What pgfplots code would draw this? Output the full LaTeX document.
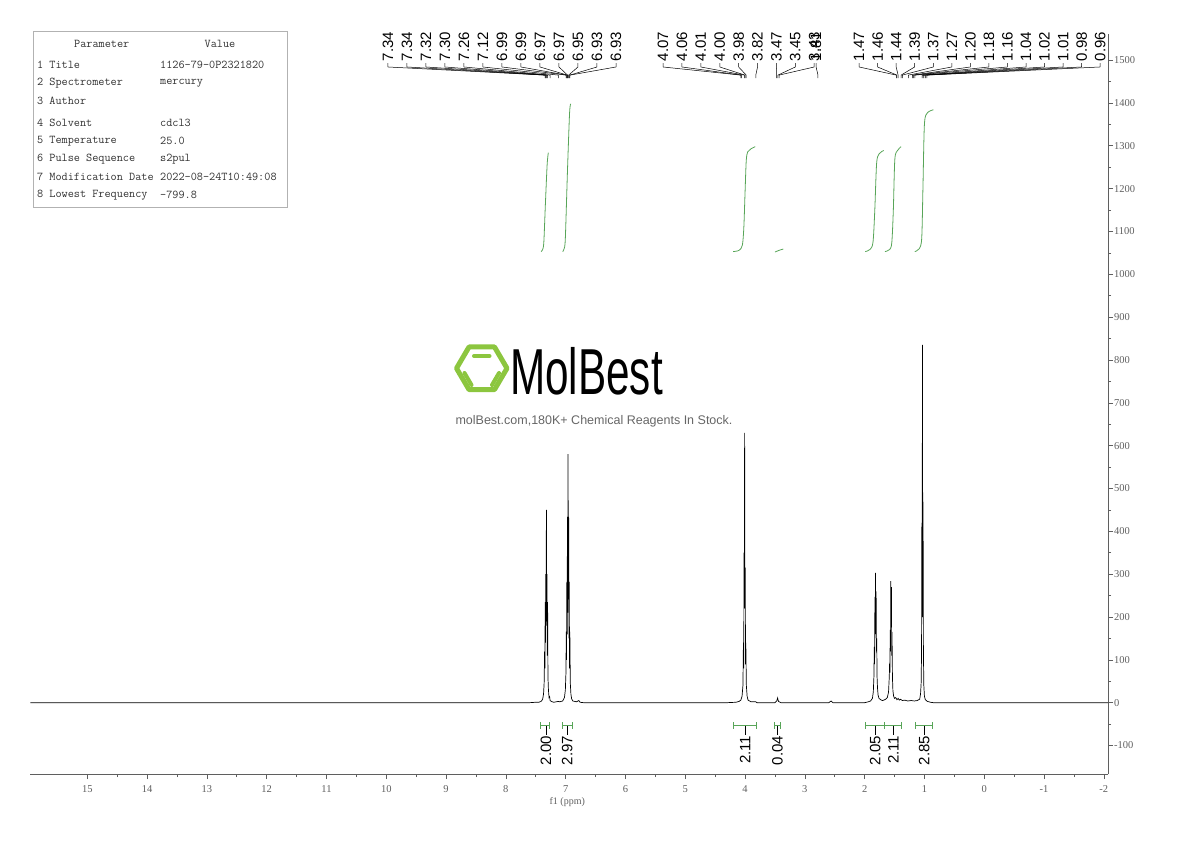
\documentclass[border=0pt]{standalone}
\usepackage{pgfplots}
\pgfplotsset{compat=1.18}
\usepackage{fontspec}
\setmainfont{Liberation Serif}
\newfontfamily\sans{Liberation Sans}
\definecolor{intgreen}{RGB}{88,165,88}
\definecolor{logogreen}{RGB}{140,198,63}
\definecolor{axgray}{RGB}{95,95,95}
\definecolor{tabgray}{RGB}{50,50,50}
\newcommand\pk[3]{%
  \draw[black,line width=0.5pt] (axis cs:#1,1493) -- (axis cs:#1,1484) -- (axis cs:#2,1465) -- (axis cs:#2,1458);
  \node[rotate=90,anchor=west,inner sep=0pt,font=\sans\fontsize{15}{15}\selectfont] at (axis cs:#1,1497) {#3};}
\newcommand\intb[4]{%
  \draw[intgreen,line width=0.8pt] (axis cs:#1,-53.7) -- (axis cs:#2,-53.7);
  \draw[intgreen,line width=0.8pt] (axis cs:#1,-46) -- (axis cs:#1,-61);
  \draw[intgreen,line width=0.8pt] (axis cs:#2,-46) -- (axis cs:#2,-61);
  \draw[black,line width=0.6pt] (axis cs:#3,-53.7) -- (axis cs:#3,-75);
  \node[rotate=90,anchor=east,inner sep=0pt,font=\sans\fontsize{15}{15}\selectfont] at (axis cs:#3,-77) {#4};}
\begin{document}
\begin{tikzpicture}
\useasboundingbox (0,0) rectangle (1190pt,841pt);
\begin{axis}[
  at={(30.5pt,67pt)}, anchor=south west,
  scale only axis, width=1077.5pt, height=740pt,
  x dir=reverse, xmin=-2.07, xmax=15.95, ymin=-166.5, ymax=1561,
  axis x line=bottom, axis y line=right,
  axis line style={axgray,line width=0.8pt,-},
  xtick={-2,-1,...,15}, ytick={-100,0,100,...,1500},
  minor x tick num=1, minor y tick num=1,
  tick align=outside,
  major tick length=5pt, minor tick length=3pt,
  tick style={axgray,line width=0.6pt},
  ticklabel style={font=\fontsize{10.5}{12}\selectfont, text=axgray},
  xticklabel style={yshift=-3pt},
  yticklabel style={xshift=-2.5pt},
  /pgf/number format/assume math mode=true,
  /pgf/number format/1000 sep={},
  xlabel={f1 (ppm)},
  xlabel style={font=\fontsize{10}{12}\selectfont, text=axgray, yshift=2pt, xshift=-2pt},
  clip=false,
]
\addplot[black,line width=0.7pt] coordinates {
(15.95,0) (12.0,0) (9.0,0) (7.6,0) (7.50,1)
(7.45,1) (7.41,3) (7.385,8) (7.37,20) (7.36,45) (7.352,120) (7.347,80) (7.342,235) (7.337,140) (7.332,300) (7.327,180) (7.322,450) (7.317,190) (7.312,300) (7.307,110) (7.302,235) (7.296,60) (7.288,30) (7.278,12) (7.268,14) (7.26,5) (7.24,3) (7.20,1) (7.12,3) (7.10,2)
(7.05,4) (7.02,12) (7.005,30) (6.995,70) (6.990,166) (6.985,100) (6.980,282) (6.975,160) (6.970,434) (6.965,210) (6.960,580) (6.955,260) (6.950,434) (6.945,150) (6.940,282) (6.935,80) (6.930,166) (6.922,45) (6.912,20) (6.90,9) (6.88,4) (6.82,2) (6.78,5) (6.76,1) (6.70,0)
(5.0,0) (4.30,0) (4.15,1) (4.10,3) (4.07,6) (4.05,15) (4.035,40) (4.027,140) (4.022,80) (4.017,350) (4.012,220) (4.007,630) (4.002,260) (3.997,315) (3.992,90) (3.987,140) (3.978,40) (3.965,15) (3.95,6) (3.90,2) (3.82,2) (3.80,0)
(3.50,0) (3.47,4) (3.455,11) (3.45,7) (3.44,3) (3.40,0)
(2.60,0) (2.56,4) (2.53,0)
(2.00,0) (1.94,2) (1.90,4) (1.87,10) (1.855,25) (1.845,60) (1.838,130) (1.833,90) (1.828,247) (1.823,160) (1.818,303) (1.813,190) (1.808,260) (1.803,120) (1.798,150) (1.792,60) (1.785,35) (1.775,18) (1.76,10) (1.74,8) (1.72,6) (1.70,5) (1.68,6) (1.65,8)
(1.62,12) (1.60,25) (1.588,60) (1.582,93) (1.577,70) (1.572,170) (1.567,120) (1.562,284) (1.557,180) (1.552,270) (1.547,110) (1.542,165) (1.535,60) (1.527,28) (1.515,15) (1.50,10) (1.48,12) (1.46,7) (1.44,10) (1.42,6) (1.40,8) (1.37,5) (1.33,6) (1.28,4) (1.22,5) (1.17,4) (1.12,5) (1.095,7)
(1.08,8) (1.065,20) (1.055,45) (1.048,120) (1.043,420) (1.038,200) (1.033,835) (1.028,300) (1.023,469) (1.017,120) (1.010,40) (1.00,15) (0.985,7) (0.95,3) (0.90,1) (0.85,0) (-2.07,0)
};
% integral curves
\addplot[intgreen,line width=0.8pt,smooth] coordinates {(7.41,1053) (7.385,1058) (7.365,1075) (7.34,1160) (7.31,1255) (7.29,1284)};
\addplot[intgreen,line width=0.8pt,smooth] coordinates {(7.05,1053) (7.025,1060) (7.005,1085) (6.97,1240) (6.935,1375) (6.916,1398)};
\addplot[intgreen,line width=0.8pt,smooth] coordinates {(4.20,1053) (4.10,1056) (4.045,1068) (4.02,1110) (4.00,1190) (3.98,1265) (3.955,1286) (3.90,1293) (3.83,1298)};
\addplot[intgreen,line width=0.8pt,smooth] coordinates {(3.50,1052) (3.43,1056) (3.36,1059)};
\addplot[intgreen,line width=0.8pt,smooth] coordinates {(1.99,1053) (1.91,1058) (1.86,1075) (1.83,1150) (1.80,1258) (1.76,1281) (1.68,1289)};
\addplot[intgreen,line width=0.8pt,smooth] coordinates {(1.66,1053) (1.58,1058) (1.545,1075) (1.52,1150) (1.495,1268) (1.45,1289) (1.39,1298)};
\addplot[intgreen,line width=0.8pt,smooth] coordinates {(1.16,1053) (1.085,1060) (1.045,1085) (1.025,1200) (1.00,1350) (0.95,1377) (0.85,1384)};
% integration brackets
\intb{7.418}{7.274}{7.33}{2.00}
\intb{7.050}{6.890}{6.975}{2.97}
\intb{4.196}{3.816}{4.00}{2.11}
\intb{3.515}{3.403}{3.459}{0.04}
\intb{1.981}{1.670}{1.825}{2.05}
\intb{1.670}{1.390}{1.52}{2.11}
\intb{1.144}{0.860}{1.002}{2.85}
% peak labels, left group
\pk{9.973}{7.345}{7.34}
\pk{9.655}{7.338}{7.34}
\pk{9.337}{7.322}{7.32}
\pk{9.019}{7.302}{7.30}
\pk{8.701}{7.260}{7.26}
\pk{8.384}{7.120}{7.12}
\pk{8.066}{6.992}{6.99}
\pk{7.748}{6.988}{6.99}
\pk{7.430}{6.972}{6.97}
\pk{7.112}{6.968}{6.97}
\pk{6.794}{6.950}{6.95}
\pk{6.476}{6.932}{6.93}
\pk{6.158}{6.928}{6.93}
% middle group
\pk{5.372}{4.07}{4.07}
\pk{5.056}{4.06}{4.06}
\pk{4.740}{4.01}{4.01}
\pk{4.423}{4.00}{4.00}
\pk{4.107}{3.98}{3.98}
\pk{3.791}{3.82}{3.82}
\pk{3.475}{3.47}{3.47}
\pk{3.159}{3.45}{3.45}
\pk{2.843}{3.43}{3.43}
\pk{2.812}{2.78}{1.81}
% right group
\pk{2.093}{1.47}{1.47}
\pk{1.783}{1.46}{1.46}
\pk{1.473}{1.44}{1.44}
\pk{1.163}{1.39}{1.39}
\pk{0.852}{1.37}{1.37}
\pk{0.542}{1.27}{1.27}
\pk{0.232}{1.20}{1.20}
\pk{-0.078}{1.18}{1.18}
\pk{-0.389}{1.16}{1.16}
\pk{-0.699}{1.04}{1.04}
\pk{-1.009}{1.02}{1.02}
\pk{-1.319}{1.01}{1.01}
\pk{-1.629}{0.98}{0.98}
\pk{-1.940}{0.96}{0.96}
\end{axis}
\begin{scope}[x=1pt,y=-1pt,yshift=841pt]
% parameter table
\draw[gray!60,line width=0.6pt] (33,31) rectangle (287,207);
\begin{scope}[every node/.style={inner sep=0pt,text=tabgray,font=\ttfamily\fontsize{11.9}{12}\selectfont}]
\node at (101.7,44) {Parameter};
\node at (220,44) {Value};
\node[anchor=west] at (37,65) {1 Title};
\node[anchor=west] at (37,83.3) {2 Spectrometer};
\node[anchor=west] at (37,101) {3 Author};
\node[anchor=west] at (37,123.3) {4 Solvent};
\node[anchor=west] at (37,141) {5 Temperature};
\node[anchor=west] at (37,159) {6 Pulse Sequence};
\node[anchor=west] at (37,176.7) {7 Modification Date};
\node[anchor=west] at (37,194.7) {8 Lowest Frequency};
\node[anchor=west] at (160,65) {1126-79-0P2321820};
\node[anchor=west] at (160,83.3) {mercury};
\node[anchor=west] at (160,123.3) {cdcl3};
\node[anchor=west] at (160,141) {25.0};
\node[anchor=west] at (160,159) {s2pul};
\node[anchor=west] at (160,176.7) {2022-08-24T10:49:08};
\node[anchor=west] at (160,194.7) {-799.8};
\end{scope}
% logo
\draw[logogreen,line width=5pt,line join=round] (456.5,368.3) -- (469,347) -- (494.5,347) -- (507,368.3) -- (494.5,389.6) -- (469,389.6) -- cycle;
\draw[logogreen,line width=4pt,line cap=round] (474,356) -- (489.5,356);
\draw[logogreen,line width=4pt,line cap=round] (464.5,373) -- (471.5,385);
\draw[logogreen,line width=4pt,line cap=round] (499,373) -- (492,385);
\node[anchor=base west,inner sep=0pt,xscale=0.65,font=\sans\fontsize{65}{65}\selectfont] at (510,395) {MolBest};
\node[inner sep=0pt,text=black!60,font=\sans\fontsize{12.5}{14}\selectfont] at (594,421) {molBest.com,180K+ Chemical Reagents In Stock.};
\end{scope}
\end{tikzpicture}
\end{document}
